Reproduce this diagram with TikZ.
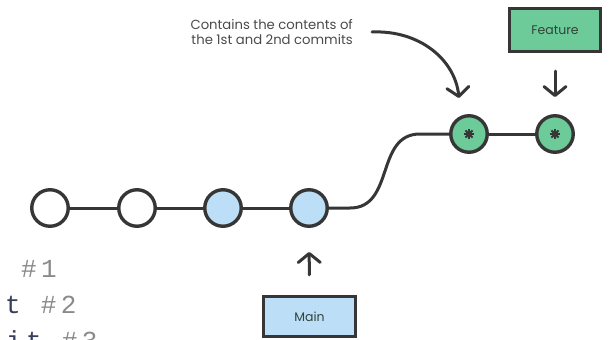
\documentclass[tikz,border=0pt]{standalone}
\usepackage{fontspec}
\usetikzlibrary{arrows.meta}
\newfontfamily\labelfont{Poppins}
\newfontfamily\codefont[LetterSpace=17]{Liberation Mono}
\definecolor{ink}{HTML}{363636}
\definecolor{mint}{HTML}{6DCB9A}
\definecolor{sky}{HTML}{BCDFF7}
\definecolor{notegrey}{HTML}{4A4A4A}
\definecolor{tagtext}{HTML}{34423B}
\definecolor{codedark}{HTML}{34405A}
\definecolor{codegrey}{HTML}{8A8A8A}

\begin{document}
\begin{tikzpicture}[x=1pt,y=-1pt,
  commit/.style={circle, draw=ink, line width=3.4pt, minimum size=36.5pt, inner sep=0pt},
  plaincommit/.style={commit, fill=white},
  maincommit/.style={commit, fill=sky},
  featcommit/.style={commit, fill=mint},
  branchtag/.style={rectangle, draw=ink, line width=3.2pt, inner sep=0pt,
    text=tagtext, font=\labelfont\fontsize{12.5}{14}\selectfont},
  link/.style={draw=ink, line width=3pt},
  pointer/.style={draw=ink, line width=3pt, line cap=round,
    -{Straight Barb[length=9pt,width=22pt,round]}},
  codeline/.style={inner sep=0pt, anchor=base west,
    font=\codefont\fontsize{26}{30}\selectfont},
]
\useasboundingbox (0,0) rectangle (611,340);
\clip (0,0) rectangle (611,340);

% commits on main
\node[plaincommit] (c1) at (50,208) {};
\node[plaincommit] (c2) at (137,208) {};
\node[maincommit]  (c3) at (223,208) {};
\node[maincommit]  (c4) at (309,208) {};

% commits on the feature branch
\node[featcommit] (f1) at (469,134) {};
\node[featcommit] (f2) at (555,134) {};

% history links
\draw[link] (c1) -- (c2);
\draw[link] (c2) -- (c3);
\draw[link] (c3) -- (c4);
\draw[link] (f1) -- (f2);
\draw[link] (c4.east) -- (350,208) .. controls (395,208) and (375,134) .. (420,134) -- (f1.west);

% squashed-commit markers
\foreach \n in {f1,f2}{
  \fill[ink] (\n) circle (3pt);
  \foreach \a in {0,45,90,135}
    \draw[ink, line width=2pt] (\n) ++(\a:5) -- ++(\a+180:10);
}

% branch labels
\node[branchtag, fill=sky, minimum width=92pt, minimum height=40pt] (main) at (309.5,316.5) {Main};
\node[branchtag, fill=mint, minimum width=91pt, minimum height=43pt] (feature) at (555,30) {Feature};

\draw[pointer, shorten <=20pt, shorten >=24pt] (main) -- (c4);
\draw[pointer, shorten <=18pt, shorten >=17pt] (feature) -- (f2);

% annotation
\node[inner sep=0pt, anchor=east, align=right, text=notegrey,
  font=\labelfont\fontsize{13.2}{15.5}\selectfont] (note) at (353,32)
  {Contains the contents of\\the 1st and 2nd commits};
\coordinate (notetail) at (372,32);
\coordinate (notetip) at (459,98);
\draw[pointer] (notetail) .. controls (420,30) and (455,60) .. (notetip);

% commit messages
\node[codeline, text=codegrey] (m1) at (21,277) {\#1};
\node[codeline] (m2) at (5,313) {\textcolor{codedark}{t} \textcolor{codegrey}{\#2}};
\node[codeline] (m3) at (6,349) {\textcolor{codedark}{it} \textcolor{codegrey}{\#3}};
\end{tikzpicture}
\end{document}
